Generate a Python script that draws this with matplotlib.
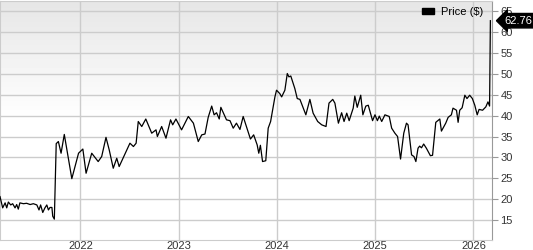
import matplotlib
matplotlib.use("Agg")
import matplotlib.pyplot as plt
import matplotlib.transforms as mtransforms
from matplotlib.patches import Patch
import numpy as np
import pandas as pd

plt.rcParams['font.family'] = ['Liberation Sans', 'DejaVu Sans']

# Weekly-ish closing prices
dates = [
    "2021-03-08", "2021-03-18", "2021-03-27", "2021-04-02", "2021-04-08", "2021-04-17",
    "2021-04-24", "2021-05-03", "2021-05-09", "2021-05-15", "2021-05-21", "2021-06-03",
    "2021-06-15", "2021-06-28", "2021-07-10", "2021-07-23", "2021-07-31", "2021-08-06",
    "2021-08-14", "2021-08-22", "2021-08-29", "2021-09-04", "2021-09-10", "2021-09-17",
    "2021-09-20", "2021-09-26", "2021-10-03", "2021-10-11", "2021-10-21", "2021-11-02",
    "2021-11-30", "2021-12-25", "2022-01-10", "2022-01-22", "2022-02-12", "2022-03-08",
    "2022-03-21", "2022-04-06", "2022-04-18", "2022-05-03", "2022-05-16", "2022-05-25",
    "2022-06-16", "2022-07-04", "2022-07-17", "2022-07-27", "2022-08-04", "2022-08-17",
    "2022-09-01", "2022-09-23", "2022-10-09", "2022-10-14", "2022-10-30", "2022-11-15",
    "2022-12-02", "2022-12-10", "2022-12-22", "2023-01-12", "2023-02-06", "2023-02-25",
    "2023-03-15", "2023-03-28", "2023-04-09", "2023-04-21", "2023-05-04", "2023-05-13",
    "2023-05-22", "2023-06-01", "2023-06-07", "2023-06-28", "2023-07-11", "2023-07-23",
    "2023-08-04", "2023-08-17", "2023-08-29", "2023-09-10", "2023-09-25", "2023-10-07",
    "2023-10-20", "2023-10-26", "2023-11-01", "2023-11-09", "2023-11-21", "2023-11-30",
    "2023-12-09", "2023-12-25", "2023-12-31", "2024-01-12", "2024-01-19", "2024-01-31",
    "2024-02-09", "2024-02-15", "2024-02-22", "2024-03-08", "2024-03-17", "2024-03-27",
    "2024-04-18", "2024-05-03", "2024-05-15", "2024-06-01", "2024-06-16", "2024-07-02",
    "2024-07-13", "2024-07-27", "2024-08-04", "2024-08-17", "2024-08-29", "2024-09-07",
    "2024-09-17", "2024-09-26", "2024-10-11", "2024-10-17", "2024-10-26", "2024-11-08",
    "2024-11-16", "2024-11-27", "2024-12-06", "2024-12-22", "2024-12-31", "2025-01-09",
    "2025-01-16", "2025-01-25", "2025-02-06", "2025-02-22", "2025-03-03", "2025-03-15",
    "2025-03-25", "2025-04-05", "2025-04-17", "2025-04-27", "2025-05-03", "2025-05-16",
    "2025-05-25", "2025-06-01", "2025-06-09", "2025-06-15", "2025-06-22", "2025-06-30",
    "2025-07-10", "2025-07-25", "2025-08-02", "2025-08-14", "2025-08-29", "2025-09-04",
    "2025-09-20", "2025-09-29", "2025-10-11", "2025-10-17", "2025-10-30", "2025-11-05",
    "2025-11-11", "2025-11-20", "2025-11-30", "2025-12-08", "2025-12-18", "2025-12-28",
    "2026-01-06", "2026-01-15", "2026-01-22", "2026-02-04", "2026-02-16", "2026-02-24",
    "2026-03-02", "2026-03-05",
]
prices = [
    20.6, 17.9, 19.1, 17.9, 19.3, 18.6,
    18.9, 17.9, 18.7, 17.6, 19.1, 18.9,
    19.0, 18.7, 18.9, 18.6, 17.4, 18.6,
    16.8, 17.9, 18.6, 17.4, 18.0, 18.0,
    15.9, 15.2, 33.3, 33.8, 31.0, 35.5,
    24.9, 31.0, 32.0, 26.2, 31.0, 29.0,
    30.2, 34.8, 31.8, 27.4, 29.8, 27.8,
    30.9, 33.4, 32.6, 33.4, 38.6, 37.4,
    39.2, 35.8, 36.6, 35.0, 37.4, 34.6,
    39.0, 37.8, 39.2, 36.6, 39.8, 38.2,
    33.8, 35.4, 35.6, 39.6, 42.3, 40.2,
    40.7, 39.2, 42.0, 39.0, 38.8, 37.0,
    38.2, 36.7, 39.8, 37.4, 34.4, 35.4,
    33.0, 31.0, 32.9, 29.0, 29.2, 37.0,
    38.6, 44.5, 46.1, 45.3, 44.5, 46.1,
    50.1, 49.3, 49.5, 46.5, 44.1, 43.9,
    40.2, 43.9, 40.6, 38.6, 37.8, 37.4,
    43.0, 43.9, 43.0, 38.2, 40.7, 38.6,
    40.6, 38.8, 41.8, 44.7, 42.0, 44.9,
    40.2, 42.3, 42.5, 38.8, 40.2, 38.8,
    39.9, 38.6, 40.2, 39.8, 37.0, 35.8,
    35.0, 29.6, 35.8, 38.2, 37.8, 30.6,
    30.2, 29.0, 32.2, 32.7, 32.3, 33.2,
    32.2, 30.4, 30.5, 38.4, 39.2, 36.3,
    38.2, 39.6, 40.2, 41.8, 41.3, 38.4,
    41.3, 41.9, 44.9, 44.1, 44.9, 44.1,
    42.5, 40.2, 41.5, 41.3, 42.1, 43.3,
    42.3, 62.76,
]
last_price = prices[-1]

yticks = [15, 20, 25, 30, 35, 40, 45, 50, 55, 60, 65]
xticks = ["2022-01-01", "2023-01-01", "2024-01-01", "2025-01-01", "2026-01-01"]
xtick_labels = ["2022", "2023", "2024", "2025", "2026"]

x = pd.to_datetime(dates)

fig = plt.figure(figsize=(5.33, 2.5), dpi=100)
ax = fig.add_axes([0.0, 0.04, 492 / 533, 0.958])

# grey-to-white gradient background (top half)
grad = np.concatenate([np.linspace(0.90, 1.0, 120), np.ones(120)])[:, None]
ax.imshow(grad, extent=[0, 1, 0, 1], transform=ax.transAxes, cmap="gray",
          vmin=0, vmax=1, aspect="auto", zorder=0, origin="upper")

ax.plot(x, prices, color="black", linewidth=0.9, zorder=3)

ax.set_xlim(pd.Timestamp("2021-03-08"), pd.Timestamp("2026-03-11"))
ax.set_ylim(10.2, 67.6)

ax.set_xticks(pd.to_datetime(xticks))
ax.set_xticklabels(xtick_labels)
ax.set_yticks(yticks)
ax.yaxis.tick_right()
ax.grid(True, color="#cccccc", linewidth=1.0, zorder=1)
ax.set_axisbelow(True)

ax.tick_params(axis="x", length=0, pad=0.5, labelsize=8, colors="#333333")
ax.tick_params(axis="y", length=4, width=0.8, pad=2, labelsize=8,
               colors="#333333", color="#999999")
for s in ax.spines.values():
    s.set_color("#cccccc")
ax.spines["right"].set_color("#999999")

# last price callout
trans = mtransforms.blended_transform_factory(ax.transAxes, ax.transData)
ax.text(1.025, last_price, f"{last_price:.2f}", transform=trans, color="white",
        fontsize=8, va="center", ha="left", zorder=10, clip_on=False,
        bbox=dict(boxstyle="larrow,pad=0.2", fc="black", ec="black"))

ax.legend(handles=[Patch(facecolor="black", edgecolor="black")], labels=["Price ($)"],
          loc="upper right", bbox_to_anchor=(0.995, 1.0), frameon=False,
          fontsize=8, handlelength=1.1, handleheight=0.5, handletextpad=0.6,
          borderaxespad=0.2)

fig.savefig("out.png", dpi=100)
